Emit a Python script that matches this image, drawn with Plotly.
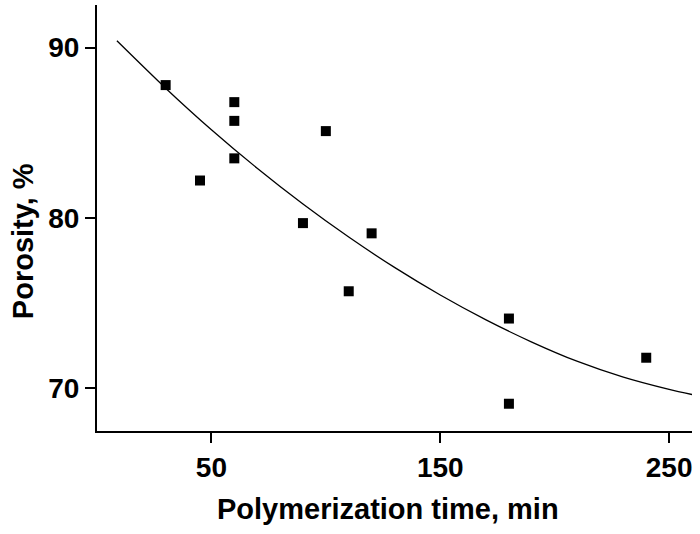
import plotly.graph_objects as go

# measured points
time_min = [30, 45, 60, 60, 60, 100, 90, 120, 110, 180, 180, 240]
porosity = [87.8, 82.2, 86.8, 85.7, 83.5, 85.1, 79.7, 79.1, 75.7, 74.1, 69.1, 71.8]

# fitted curve
fit_time = [8.7, 30, 50, 70, 90, 110, 130, 150, 170, 190, 210, 230, 250, 260]
fit_porosity = [90.4, 87.62, 85.18, 82.92, 80.82, 78.88, 77.10, 75.48, 74.02, 72.72, 71.58, 70.66, 69.94, 69.64]

FONT = "Liberation Sans, Arial, sans-serif"

fig = go.Figure()
fig.add_trace(go.Scatter(
    x=fit_time, y=fit_porosity, mode="lines", line_shape="spline",
    line=dict(color="black", width=1.3, smoothing=0.8), hoverinfo="skip",
))
fig.add_trace(go.Scatter(
    x=time_min, y=porosity, mode="markers",
    marker=dict(symbol="square", size=10, color="black", line=dict(width=0)),
))

axis_common = dict(
    showgrid=False, zeroline=False, showline=True, linecolor="black", linewidth=2,
    ticks="outside", ticklen=10, tickwidth=2, tickcolor="black", automargin=False,
    tickfont=dict(family=FONT, size=28, color="black", weight="bold"),
)

title_font = dict(family=FONT, size=29, color="black", weight="bold")

fig.update_layout(
    width=700, height=534,
    margin=dict(l=97, r=8, t=5, b=103),
    paper_bgcolor="white", plot_bgcolor="white",
    showlegend=False,
    xaxis=dict(range=[0, 260], tick0=50, dtick=100, **axis_common),
    yaxis=dict(range=[67.5, 92.5], tick0=70, dtick=10, **axis_common),
    annotations=[
        dict(text="Polymerization time, min", xref="paper", yref="paper",
             x=0.4896, y=-0.184, xanchor="center", yanchor="middle",
             showarrow=False, font=title_font),
        dict(text="Porosity, %", xref="paper", yref="paper",
             x=-0.1244, y=0.4456, xanchor="center", yanchor="middle",
             textangle=-90, showarrow=False, font=title_font),
    ],
)

# drop the default 8px page margin so the figure sits at the window corner
fig.write_html("out.html", config={"displayModeBar": False},
               post_script="document.body.style.margin='0';")
